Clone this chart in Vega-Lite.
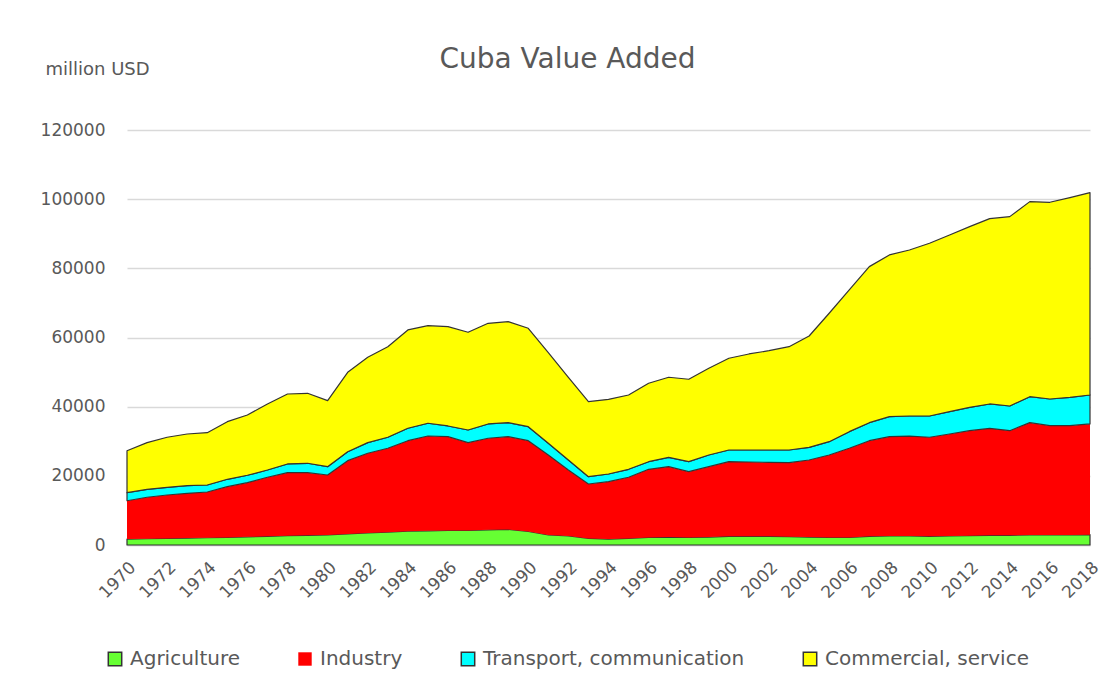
{
"$schema": "https://vega.github.io/schema/vega-lite/v6.json",
"width": 963, "height": 415,
"autosize": "none",
"padding": {"left": 127, "top": 130, "right": 20, "bottom": 151},
"background": "white",
"title": {"text": "Cuba Value Added", "font": "DejaVu Sans", "fontSize": 28, "fontWeight": "normal", "color": "#595959", "dx": -41, "offset": -14},
"config": {"view": {"stroke": null}},
"data": {"values": [
{"year":1970,"sector":"Agriculture","value":1700},{"year":1970,"sector":"Industry","value":11100},{"year":1970,"sector":"Transport, communication","value":2320},{"year":1970,"sector":"Commercial, service","value":12130},
{"year":1971,"sector":"Agriculture","value":1800},{"year":1971,"sector":"Industry","value":12000},{"year":1971,"sector":"Transport, communication","value":2310},{"year":1971,"sector":"Commercial, service","value":13490},
{"year":1972,"sector":"Agriculture","value":1900},{"year":1972,"sector":"Industry","value":12560},{"year":1972,"sector":"Transport, communication","value":2230},{"year":1972,"sector":"Commercial, service","value":14460},
{"year":1973,"sector":"Agriculture","value":2000},{"year":1973,"sector":"Industry","value":12950},{"year":1973,"sector":"Transport, communication","value":2210},{"year":1973,"sector":"Commercial, service","value":14940},
{"year":1974,"sector":"Agriculture","value":2100},{"year":1974,"sector":"Industry","value":13230},{"year":1974,"sector":"Transport, communication","value":2020},{"year":1974,"sector":"Commercial, service","value":15130},
{"year":1975,"sector":"Agriculture","value":2200},{"year":1975,"sector":"Industry","value":14660},{"year":1975,"sector":"Transport, communication","value":2140},{"year":1975,"sector":"Commercial, service","value":16660},
{"year":1976,"sector":"Agriculture","value":2350},{"year":1976,"sector":"Industry","value":15670},{"year":1976,"sector":"Transport, communication","value":2140},{"year":1976,"sector":"Commercial, service","value":17440},
{"year":1977,"sector":"Agriculture","value":2500},{"year":1977,"sector":"Industry","value":17080},{"year":1977,"sector":"Transport, communication","value":2110},{"year":1977,"sector":"Commercial, service","value":19090},
{"year":1978,"sector":"Agriculture","value":2700},{"year":1978,"sector":"Industry","value":18210},{"year":1978,"sector":"Transport, communication","value":2520},{"year":1978,"sector":"Commercial, service","value":20240},
{"year":1979,"sector":"Agriculture","value":2800},{"year":1979,"sector":"Industry","value":18110},{"year":1979,"sector":"Transport, communication","value":2720},{"year":1979,"sector":"Commercial, service","value":20240},
{"year":1980,"sector":"Agriculture","value":2900},{"year":1980,"sector":"Industry","value":17340},{"year":1980,"sector":"Transport, communication","value":2400},{"year":1980,"sector":"Commercial, service","value":19090},
{"year":1981,"sector":"Agriculture","value":3200},{"year":1981,"sector":"Industry","value":21180},{"year":1981,"sector":"Transport, communication","value":2600},{"year":1981,"sector":"Commercial, service","value":22960},
{"year":1982,"sector":"Agriculture","value":3500},{"year":1982,"sector":"Industry","value":23020},{"year":1982,"sector":"Transport, communication","value":3070},{"year":1982,"sector":"Commercial, service","value":24690},
{"year":1983,"sector":"Agriculture","value":3700},{"year":1983,"sector":"Industry","value":24270},{"year":1983,"sector":"Transport, communication","value":3180},{"year":1983,"sector":"Commercial, service","value":26200},
{"year":1984,"sector":"Agriculture","value":4000},{"year":1984,"sector":"Industry","value":26160},{"year":1984,"sector":"Transport, communication","value":3590},{"year":1984,"sector":"Commercial, service","value":28430},
{"year":1985,"sector":"Agriculture","value":4100},{"year":1985,"sector":"Industry","value":27420},{"year":1985,"sector":"Transport, communication","value":3680},{"year":1985,"sector":"Commercial, service","value":28220},
{"year":1986,"sector":"Agriculture","value":4200},{"year":1986,"sector":"Industry","value":27120},{"year":1986,"sector":"Transport, communication","value":3100},{"year":1986,"sector":"Commercial, service","value":28710},
{"year":1987,"sector":"Agriculture","value":4200},{"year":1987,"sector":"Industry","value":25390},{"year":1987,"sector":"Transport, communication","value":3670},{"year":1987,"sector":"Commercial, service","value":28250},
{"year":1988,"sector":"Agriculture","value":4400},{"year":1988,"sector":"Industry","value":26460},{"year":1988,"sector":"Transport, communication","value":4140},{"year":1988,"sector":"Commercial, service","value":29110},
{"year":1989,"sector":"Agriculture","value":4500},{"year":1989,"sector":"Industry","value":26820},{"year":1989,"sector":"Transport, communication","value":4050},{"year":1989,"sector":"Commercial, service","value":29210},
{"year":1990,"sector":"Agriculture","value":3900},{"year":1990,"sector":"Industry","value":26260},{"year":1990,"sector":"Transport, communication","value":4050},{"year":1990,"sector":"Commercial, service","value":28460},
{"year":1991,"sector":"Agriculture","value":2900},{"year":1991,"sector":"Industry","value":23130},{"year":1991,"sector":"Transport, communication","value":3380},{"year":1991,"sector":"Commercial, service","value":26210},
{"year":1992,"sector":"Agriculture","value":2600},{"year":1992,"sector":"Industry","value":19090},{"year":1992,"sector":"Transport, communication","value":2890},{"year":1992,"sector":"Commercial, service","value":23920},
{"year":1993,"sector":"Agriculture","value":1900},{"year":1993,"sector":"Industry","value":15740},{"year":1993,"sector":"Transport, communication","value":2110},{"year":1993,"sector":"Commercial, service","value":21700},
{"year":1994,"sector":"Agriculture","value":1700},{"year":1994,"sector":"Industry","value":16610},{"year":1994,"sector":"Transport, communication","value":2220},{"year":1994,"sector":"Commercial, service","value":21600},
{"year":1995,"sector":"Agriculture","value":1900},{"year":1995,"sector":"Industry","value":17680},{"year":1995,"sector":"Transport, communication","value":2310},{"year":1995,"sector":"Commercial, service","value":21490},
{"year":1996,"sector":"Agriculture","value":2200},{"year":1996,"sector":"Industry","value":19690},{"year":1996,"sector":"Transport, communication","value":2200},{"year":1996,"sector":"Commercial, service","value":22670},
{"year":1997,"sector":"Agriculture","value":2300},{"year":1997,"sector":"Industry","value":20340},{"year":1997,"sector":"Transport, communication","value":2720},{"year":1997,"sector":"Commercial, service","value":23140},
{"year":1998,"sector":"Agriculture","value":2200},{"year":1998,"sector":"Industry","value":19000},{"year":1998,"sector":"Transport, communication","value":2890},{"year":1998,"sector":"Commercial, service","value":23830},
{"year":1999,"sector":"Agriculture","value":2300},{"year":1999,"sector":"Industry","value":20340},{"year":1999,"sector":"Transport, communication","value":3390},{"year":1999,"sector":"Commercial, service","value":25070},
{"year":2000,"sector":"Agriculture","value":2500},{"year":2000,"sector":"Industry","value":21590},{"year":2000,"sector":"Transport, communication","value":3380},{"year":2000,"sector":"Commercial, service","value":26520},
{"year":2001,"sector":"Agriculture","value":2500},{"year":2001,"sector":"Industry","value":21500},{"year":2001,"sector":"Transport, communication","value":3470},{"year":2001,"sector":"Commercial, service","value":27770},
{"year":2002,"sector":"Agriculture","value":2500},{"year":2002,"sector":"Industry","value":21400},{"year":2002,"sector":"Transport, communication","value":3570},{"year":2002,"sector":"Commercial, service","value":28720},
{"year":2003,"sector":"Agriculture","value":2400},{"year":2003,"sector":"Industry","value":21400},{"year":2003,"sector":"Transport, communication","value":3670},{"year":2003,"sector":"Commercial, service","value":29880},
{"year":2004,"sector":"Agriculture","value":2300},{"year":2004,"sector":"Industry","value":22280},{"year":2004,"sector":"Transport, communication","value":3670},{"year":2004,"sector":"Commercial, service","value":32190},
{"year":2005,"sector":"Agriculture","value":2200},{"year":2005,"sector":"Industry","value":23830},{"year":2005,"sector":"Transport, communication","value":3850},{"year":2005,"sector":"Commercial, service","value":37130},
{"year":2006,"sector":"Agriculture","value":2200},{"year":2006,"sector":"Industry","value":25770},{"year":2006,"sector":"Transport, communication","value":4800},{"year":2006,"sector":"Commercial, service","value":40980},
{"year":2007,"sector":"Agriculture","value":2500},{"year":2007,"sector":"Industry","value":27660},{"year":2007,"sector":"Transport, communication","value":5210},{"year":2007,"sector":"Commercial, service","value":45120},
{"year":2008,"sector":"Agriculture","value":2600},{"year":2008,"sector":"Industry","value":28720},{"year":2008,"sector":"Transport, communication","value":5780},{"year":2008,"sector":"Commercial, service","value":46770},
{"year":2009,"sector":"Agriculture","value":2600},{"year":2009,"sector":"Industry","value":28900},{"year":2009,"sector":"Transport, communication","value":5800},{"year":2009,"sector":"Commercial, service","value":48010},
{"year":2010,"sector":"Agriculture","value":2500},{"year":2010,"sector":"Industry","value":28650},{"year":2010,"sector":"Transport, communication","value":6150},{"year":2010,"sector":"Commercial, service","value":49950},
{"year":2011,"sector":"Agriculture","value":2600},{"year":2011,"sector":"Industry","value":29500},{"year":2011,"sector":"Transport, communication","value":6450},{"year":2011,"sector":"Commercial, service","value":51100},
{"year":2012,"sector":"Agriculture","value":2700},{"year":2012,"sector":"Industry","value":30350},{"year":2012,"sector":"Transport, communication","value":6770},{"year":2012,"sector":"Commercial, service","value":52230},
{"year":2013,"sector":"Agriculture","value":2800},{"year":2013,"sector":"Industry","value":30950},{"year":2013,"sector":"Transport, communication","value":7030},{"year":2013,"sector":"Commercial, service","value":53590},
{"year":2014,"sector":"Agriculture","value":2800},{"year":2014,"sector":"Industry","value":30250},{"year":2014,"sector":"Transport, communication","value":7150},{"year":2014,"sector":"Commercial, service","value":54750},
{"year":2015,"sector":"Agriculture","value":2900},{"year":2015,"sector":"Industry","value":32470},{"year":2015,"sector":"Transport, communication","value":7520},{"year":2015,"sector":"Commercial, service","value":56400},
{"year":2016,"sector":"Agriculture","value":2900},{"year":2016,"sector":"Industry","value":31600},{"year":2016,"sector":"Transport, communication","value":7720},{"year":2016,"sector":"Commercial, service","value":56880},
{"year":2017,"sector":"Agriculture","value":2900},{"year":2017,"sector":"Industry","value":31600},{"year":2017,"sector":"Transport, communication","value":8210},{"year":2017,"sector":"Commercial, service","value":57730},
{"year":2018,"sector":"Agriculture","value":3000},{"year":2018,"sector":"Industry","value":32000},{"year":2018,"sector":"Transport, communication","value":8380},{"year":2018,"sector":"Commercial, service","value":58510}
]},
"transform": [{"calculate": "indexof(['Agriculture','Industry','Transport, communication','Commercial, service'], datum.sector)", "as": "stackOrder"}],
"mark": {"type": "area", "strokeWidth": 1.2, "strokeJoin": "round"},
"encoding": {
  "x": {"field": "year", "type": "quantitative",
    "scale": {"domain": [1970, 2018], "nice": false, "zero": false},
    "axis": {"values": [1970,1972,1974,1976,1978,1980,1982,1984,1986,1988,1990,1992,1994,1996,1998,2000,2002,2004,2006,2008,2010,2012,2014,2016,2018],
      "format": "d", "labelAngle": -45, "title": null, "grid": false, "domain": true, "domainColor": "#d9d9d9", "domainWidth": 1.5, "ticks": false,
      "labelFont": "DejaVu Sans", "labelFontSize": 17, "labelColor": "#595959", "labelPadding": 14, "labelOverlap": false, "labelFlush": false}},
  "y": {"field": "value", "type": "quantitative", "stack": "zero",
    "scale": {"domain": [0, 120000], "nice": false},
    "axis": {"values": [0,20000,40000,60000,80000,100000,120000], "format": "d",
      "title": "million USD", "titleAngle": 0, "titleAlign": "left", "titleBaseline": "alphabetic", "titleX": -82, "titleY": -56,
      "titleFont": "DejaVu Sans", "titleFontSize": 18, "titleFontWeight": "normal", "titleColor": "#595959",
      "grid": true, "gridColor": "#d9d9d9", "gridWidth": 1.5, "domain": false, "ticks": false,
      "labelPadding": 22, "labelFont": "DejaVu Sans", "labelFontSize": 17, "labelColor": "#595959"}},
  "order": {"field": "stackOrder", "type": "quantitative", "sort": "ascending"},
  "color": {"field": "sector", "type": "nominal",
    "sort": ["Agriculture", "Industry", "Transport, communication", "Commercial, service"],
    "scale": {"domain": ["Agriculture", "Industry", "Transport, communication", "Commercial, service"], "range": ["#66ff33", "#ff0000", "#00ffff", "#ffff00"]},
    "legend": {"orient": "none", "legendX": -22, "legendY": 519, "direction": "horizontal", "title": null,
      "symbolType": "square", "symbolSize": 180, "symbolStrokeWidth": 1.5, "symbolOpacity": 1, "labelLimit": 0,
      "labelFont": "DejaVu Sans", "labelFontSize": 20, "labelColor": "#595959", "columnPadding": 55, "labelOffset": 5}},
  "stroke": {"field": "sector", "type": "nominal",
    "sort": ["Agriculture", "Industry", "Transport, communication", "Commercial, service"],
    "scale": {"domain": ["Agriculture", "Industry", "Transport, communication", "Commercial, service"], "range": ["#333333", "transparent", "#333333", "#333333"]}}
}
}
